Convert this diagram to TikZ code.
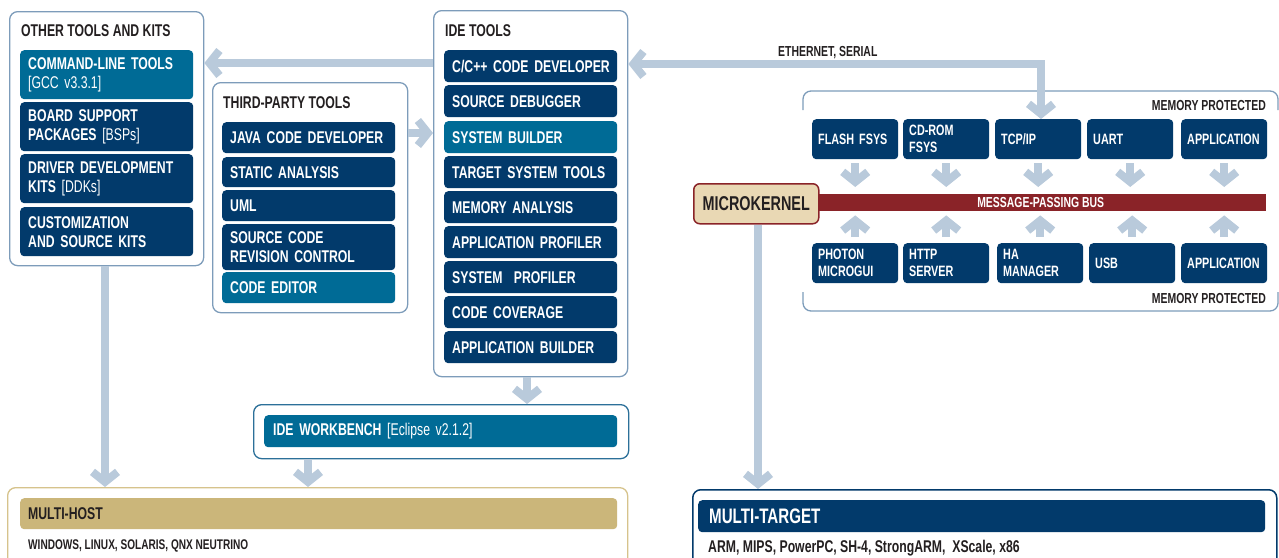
\documentclass[tikz,border=0pt]{standalone}
\usepackage{fontspec}
\setmainfont{Liberation Sans}[FakeStretch=0.72]
\usetikzlibrary{arrows.meta}
\definecolor{navyc}{HTML}{023A6B}
\definecolor{tealc}{HTML}{006B96}
\definecolor{arrowc}{HTML}{B9CADB}
\definecolor{panelc}{HTML}{7D9CBA}
\definecolor{ink}{HTML}{231F20}
\definecolor{busred}{HTML}{8A2328}
\definecolor{mkfill}{HTML}{E9D8B4}
\definecolor{tanbar}{HTML}{CBB67A}
\definecolor{tanline}{HTML}{D6C38C}
\definecolor{wbline}{HTML}{2C7099}
\tikzset{
  barb/.tip={Straight Barb[length=10pt,width=25pt]},
  panel/.style={draw=panelc, line width=1.3pt, rounded corners=8pt, fill=white, anchor=north west, inner sep=0pt},
  ibox/.style={fill=navyc, rounded corners=4pt, text=white, anchor=north west, minimum width=173pt, text width=157pt, inner xsep=8pt, inner ysep=0pt, align=left, font=\bfseries\fontsize{17}{19}\selectfont},
  tbox/.style={ibox, fill=tealc},
  rbox/.style={fill=navyc, rounded corners=4pt, text=white, anchor=north west, minimum width=86pt, minimum height=40pt, text width=74pt, inner xsep=6pt, inner ysep=0pt, align=left, font=\bfseries\fontsize{15}{17}\selectfont},
  ttl/.style={anchor=base west, inner sep=0pt, text=ink, font=\bfseries\fontsize{17}{19}\selectfont},
  lbl/.style={inner sep=0pt, text=ink, font=\bfseries\fontsize{14.5}{17}\selectfont},
  arr/.style={draw=arrowc, line width=8pt, -barb},
  arrb/.style={draw=arrowc, line width=8pt, barb-barb},
  bracket/.style={draw=panelc, line width=1.3pt, rounded corners=8pt},
}
\begin{document}
\begin{tikzpicture}[x=1pt,y=-1pt]
\useasboundingbox (0,0) rectangle (1279,557);
\clip (0,0) rectangle (1279,557);

% ---------- OTHER TOOLS AND KITS ----------
\node[panel, minimum width=194pt, minimum height=254pt] (other) at (9,11) {};
\node[ttl] (otherT) at (21,36) {OTHER TOOLS AND KITS};
\node[tbox, minimum height=49pt] (cmd) at (20,50) {COMMAND-LINE TOOLS\\{\mdseries [GCC v3.3.1]}};
\node[ibox, minimum height=49pt] (bsp) at (20,102) {BOARD SUPPORT\\PACKAGES {\mdseries [BSPs]}};
\node[ibox, minimum height=49pt] (ddk) at (20,154) {DRIVER DEVELOPMENT\\KITS {\mdseries [DDKs]}};
\node[ibox, minimum height=49pt] (csk) at (20,207) {CUSTOMIZATION\\AND SOURCE KITS};

% ---------- THIRD-PARTY TOOLS ----------
\node[panel, minimum width=195pt, minimum height=230pt] (third) at (212,82) {};
\node[ttl] (thirdT) at (223,108) {THIRD-PARTY TOOLS};
\node[ibox, minimum height=31pt] (java) at (222,122) {JAVA CODE DEVELOPER};
\node[ibox, minimum height=30pt] (stat) at (222,157) {STATIC ANALYSIS};
\node[ibox, minimum height=31pt] (uml) at (222,190) {UML};
\node[ibox, minimum height=46pt] (scm) at (222,224) {SOURCE CODE\\REVISION CONTROL};
\node[tbox, minimum height=31pt] (edit) at (222,272) {CODE EDITOR};

% ---------- IDE TOOLS ----------
\node[panel, minimum width=194pt, minimum height=366pt] (ide) at (433,10) {};
\node[ttl] (ideT) at (445,36) {IDE TOOLS};
\node[ibox, minimum height=32pt] (ccd) at (444,50) {\mbox{C/C++ CODE DEVELOPER}};
\node[ibox, minimum height=32pt] (dbg) at (444,85) {SOURCE DEBUGGER};
\node[tbox, minimum height=32pt] (sysb) at (444,121) {SYSTEM BUILDER};
\node[ibox, minimum height=32pt] (tst) at (444,156) {TARGET SYSTEM TOOLS};
\node[ibox, minimum height=32pt] (mem) at (444,191) {MEMORY ANALYSIS};
\node[ibox, minimum height=32pt] (aprof) at (444,226) {\mbox{APPLICATION PROFILER}};
\node[ibox, minimum height=32pt] (sprof) at (444,261) {SYSTEM\ \ PROFILER};
\node[ibox, minimum height=32pt] (cov) at (444,296) {CODE COVERAGE};
\node[ibox, minimum height=32pt] (abld) at (444,331) {\mbox{APPLICATION BUILDER}};

% ---------- IDE WORKBENCH ----------
\node[panel, draw=wbline, minimum width=375pt, minimum height=54pt] (wbp) at (253,404) {};
\node[tbox, minimum width=353pt, text width=335pt, inner xsep=9pt, minimum height=32pt] (wb) at (264,415) {IDE WORKBENCH {\mdseries [Eclipse v2.1.2]}};

% ---------- MULTI-HOST ----------
\node[panel, draw=tanline, minimum width=620pt, minimum height=80pt] (mhp) at (7,487) {};
\node[ibox, fill=tanbar, text=ink, minimum width=597pt, text width=581pt, minimum height=31pt] (mh) at (20,498) {MULTI-HOST};
\node[lbl, anchor=base west, font=\bfseries\fontsize{14}{16}\selectfont] (hosts) at (28,549) {WINDOWS, LINUX, SOLARIS, QNX NEUTRINO};

% ---------- MULTI-TARGET ----------
\node[panel, draw=navyc, line width=1.5pt, minimum width=584pt, minimum height=80pt] (mtp) at (692,489) {};
\node[ibox, minimum width=567pt, text width=545pt, inner xsep=11pt, minimum height=32pt, font=\bfseries\fontsize{21}{23}\selectfont] (mt) at (698,500) {MULTI-TARGET};
\node[lbl, anchor=base west, font=\bfseries\fontsize{17}{19}\selectfont] (targets) at (708,552) {ARM, MIPS, PowerPC, SH-4, StrongARM,\ \ XScale, x86};

% ---------- RIGHT: MEMORY PROTECTED ----------
\draw[bracket] (803,110) -- (803,91) -- (1278,91) -- (1278,110);
\draw[bracket] (803,292) -- (803,311) -- (1278,311) -- (1278,292);
\node[lbl, anchor=base east] (mpT) at (1266,110) {MEMORY PROTECTED};
\node[lbl, anchor=base east] (mpB) at (1266,303) {MEMORY PROTECTED};

\node[rbox] (flash) at (812,119) {FLASH FSYS};
\node[rbox] (cdrom) at (903,119) {CD-ROM\\FSYS};
\node[rbox] (tcp) at (995,119) {TCP/IP};
\node[rbox] (uart) at (1087,119) {UART};
\node[rbox] (app1) at (1181,119) {APPLICATION};

\node[rbox] (photon) at (812,243) {PHOTON\\MICROGUI};
\node[rbox] (http) at (903,243) {HTTP\\SERVER};
\node[rbox] (ha) at (997,243) {HA\\MANAGER};
\node[rbox] (usb) at (1089,243) {USB};
\node[rbox] (app2) at (1181,243) {APPLICATION};

\node[fill=busred, anchor=north west, minimum width=451pt, minimum height=17pt, inner sep=0pt, text=white, font=\bfseries\fontsize{14.5}{16}\selectfont] (bus) at (815,194) {MESSAGE-PASSING BUS};
\node[draw=busred, line width=1.5pt, fill=mkfill, rounded corners=6pt, anchor=north west, minimum width=125pt, minimum height=40pt, inner sep=0pt, text=ink, font=\bfseries\fontsize{20}{22}\selectfont] (mk) at (693,183) {MICROKERNEL};

\node[lbl, anchor=base west] (eth) at (778,56) {ETHERNET, SERIAL};

% ---------- CONNECTORS ----------
\draw[arr] (ide.west |- 0,63) -- (other.east |- 0,63);
\draw[arr] (third.east |- 0,133) -- (ide.west |- 0,133);
\draw[arr] (ide.south -| 527,0) -- (wbp.north -| 527,0);
\draw[arr] (other.south -| 105,0) -- (mhp.north -| 105,0);
\draw[arr] (wbp.south -| 308,0) -- (mhp.north -| 308,0);
\draw[arr] (mk.south -| 758,0) -- (mtp.north -| 758,0);
\draw[arrb] (ide.east |- 0,64) -| (tcp.north -| 1041,0);

\foreach \b in {flash,cdrom,tcp,uart,app1}
  \draw[arr, shorten <=4pt, shorten >=7pt] (\b.south) -- (\b.south |- bus.north);
\foreach \b in {photon,http,ha,usb,app2}
  \draw[arr, shorten <=6pt, shorten >=4pt] (\b.north) -- (\b.north |- bus.south);
\end{tikzpicture}
\end{document}
